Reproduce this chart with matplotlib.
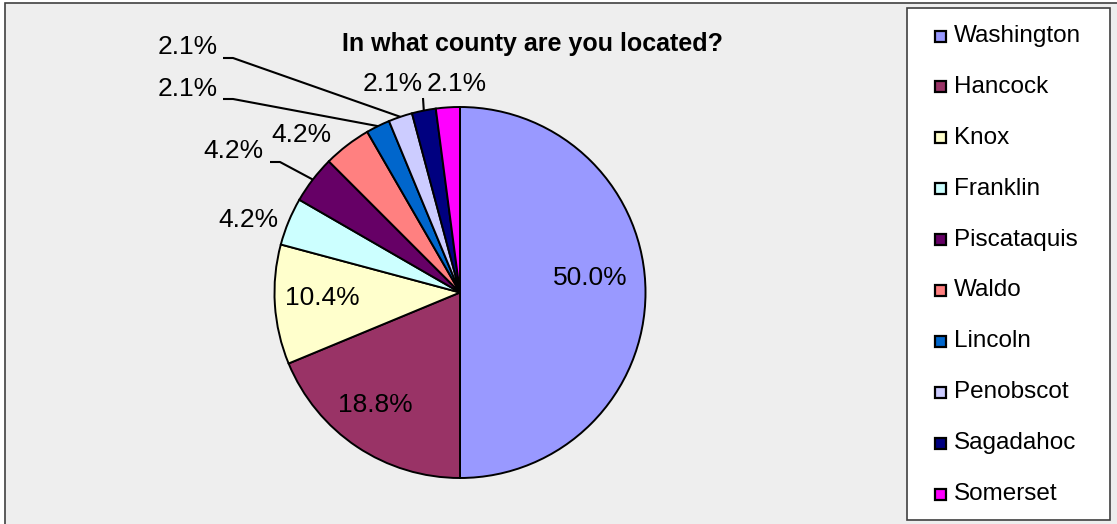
import numpy as np
import matplotlib.pyplot as plt
from matplotlib.patches import Rectangle

plt.rcParams['font.family'] = ['Liberation Sans', 'DejaVu Sans']

counties = ['Washington', 'Hancock', 'Knox', 'Franklin', 'Piscataquis',
            'Waldo', 'Lincoln', 'Penobscot', 'Sagadahoc', 'Somerset']
responses = [24, 9, 5, 2, 2, 2, 1, 1, 1, 1]
colors = ['#9999FF', '#993366', '#FFFFCC', '#CCFFFF', '#660066',
          '#FF8080', '#0066CC', '#CCCCFF', '#000080', '#FF00FF']

W, H = 1117, 524
fig = plt.figure(figsize=(W / 100, H / 100), dpi=100, facecolor='white')
ax = fig.add_axes([0, 0, 1, 1])

def Y(y):
    # pixel row (from top) -> axis y
    return H - y

# chart area
ax.add_patch(Rectangle((5, Y(H + 10)), W + 10, H + 7, facecolor='#EEEEEE',
                       edgecolor='#404040', lw=1.2, zorder=0))

cx, cy, r = 460, 292.5, 185.5
total = sum(responses)
pcts = [100 * v / total for v in responses]
wedges, _ = ax.pie(responses, colors=colors, startangle=90, counterclock=False,
                   center=(cx, Y(cy)), radius=r, frame=True,
                   wedgeprops=dict(edgecolor='black', linewidth=1.4))
ax.set_xlim(0, W)
ax.set_ylim(0, H)
ax.set_aspect('equal')
ax.axis('off')

# label positions (pixel centres) and optional elbow for the leader line
label_pos = [(590, 278), (375, 405), (322, 298), (248, 220), (233, 151),
             (301, 135), (188, 89), (188, 47), (393, 84), (457, 84)]
elbows = {4: [(270, 162), (280, 162)],
          6: [(223, 99), (233, 99)],
          7: [(223, 58), (233, 58)],
          8: [(423, 98)]}

cum = np.cumsum([0] + responses)
for i, (p, (lx, ly)) in enumerate(zip(pcts, label_pos)):
    ax.text(lx, Y(ly), f'{p:.1f}%', ha='center', va='center',
            fontsize=19, color='black', zorder=5)
    if i in elbows:
        mid = np.radians(90 - 360 * (cum[i] + cum[i + 1]) / 2 / total)
        ex, ey = cx + r * np.cos(mid), cy - r * np.sin(mid)
        pts = elbows[i] + [(ex, ey)]
        ax.plot([q[0] for q in pts], [Y(q[1]) for q in pts], color='black',
                lw=1.5, zorder=5, solid_capstyle='butt')

ax.text(533, Y(44), 'In what county are you located?', ha='center', va='center',
        fontsize=18, fontweight='bold')

# legend
ax.add_patch(Rectangle((907, Y(520)), 203, 512, facecolor='white',
                       edgecolor='#404040', lw=1.2, zorder=3))
for i, (name, c) in enumerate(zip(counties, colors)):
    yy = 36 + i * 50.9
    ax.add_patch(Rectangle((935, Y(yy + 5.5)), 11, 11, facecolor=c,
                           edgecolor='black', lw=1.6, zorder=4))
    ax.text(954, Y(yy), name, ha='left', va='center', fontsize=17.5, zorder=4)

fig.savefig('out.png', dpi=100, facecolor='white')
